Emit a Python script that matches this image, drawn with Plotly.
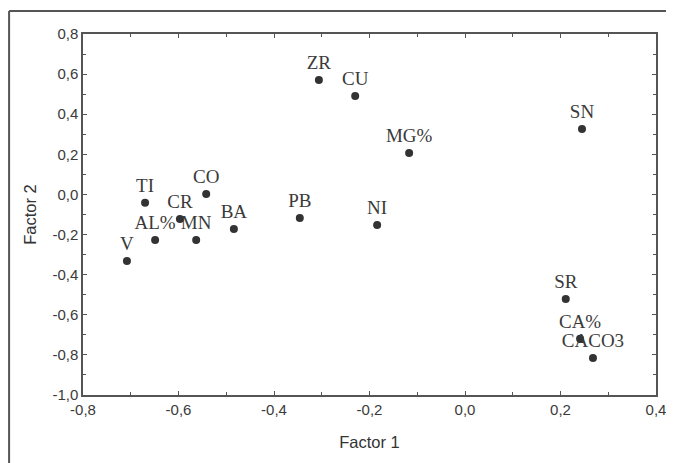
import plotly.graph_objects as go

labels = ["ZR", "CU", "SN", "MG%", "TI", "CO", "CR", "PB", "BA", "NI",
          "AL%", "MN", "V", "SR", "CA%", "CACO3"]
factor1 = [-0.306, -0.230, 0.245, -0.117, -0.670, -0.542, -0.597, -0.346, -0.484, -0.184,
           -0.649, -0.563, -0.708, 0.211, 0.241, 0.268]
factor2 = [0.571, 0.491, 0.326, 0.207, -0.042, 0.002, -0.122, -0.117, -0.172, -0.152,
           -0.227, -0.227, -0.332, -0.521, -0.720, -0.815]

x_ticks = [-0.8, -0.6, -0.4, -0.2, 0.0, 0.2, 0.4]
x_tick_text = ["-0,8", "-0,6", "-0,4", "-0,2", "0,0", "0,2", "0,4"]
y_ticks = [0.8, 0.6, 0.4, 0.2, 0.0, -0.2, -0.4, -0.6, -0.8, -1.0]
y_tick_text = ["0,8", "0,6", "0,4", "0,2", "0,0", "-0,2", "-0,4", "-0,6", "-0,8", "-1,0"]

fig = go.Figure()
fig.add_trace(go.Scatter(
    x=factor1, y=factor2, mode="markers+text", text=labels,
    textposition="top center",
    textfont=dict(family="Liberation Serif", size=19, color="#3a3a3a"),
    marker=dict(size=8, color="#333333"),
    showlegend=False, cliponaxis=False,
))

axis_common = dict(
    showgrid=False, zeroline=False, showline=True, linecolor="#555555", linewidth=1.5,
    mirror="allticks", ticks="inside", ticklen=4, tickcolor="#555555",
    tickfont=dict(family="Liberation Sans", size=15, color="#3a3a3a"),
    minor=dict(ticks="inside", ticklen=3, tickcolor="#555555", dtick=0.1),
    automargin=False,
)

title_font = dict(family="Liberation Sans", size=16.5, color="#333333")
fig.update_xaxes(range=[-0.8, 0.4], tickvals=x_ticks, ticktext=x_tick_text,
                 title=dict(text="Factor 1", font=title_font, standoff=20),
                 **axis_common)
fig.update_yaxes(range=[-1.0, 0.8], tickvals=y_ticks, ticktext=y_tick_text,
                 title=dict(text="Factor 2", font=title_font, standoff=12),
                 **axis_common)

fig.add_shape(type="line", xref="paper", yref="paper", x0=-0.129, x1=1.04, y0=1.064, y1=1.064,
              line=dict(color="#555555", width=2))
fig.add_shape(type="line", xref="paper", yref="paper", x0=-0.129, x1=-0.129, y0=1.064, y1=-0.2,
              line=dict(color="#555555", width=2))

fig.update_layout(
    width=666, height=455,
    margin=dict(l=75, r=18, t=26, b=68),
    paper_bgcolor="white", plot_bgcolor="white",
)

fig.write_html("out.html")
